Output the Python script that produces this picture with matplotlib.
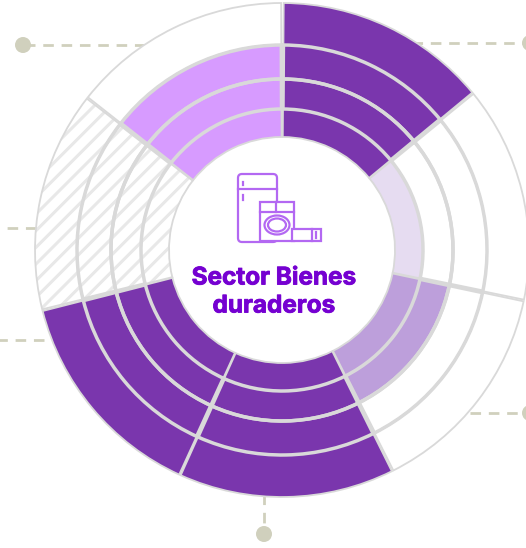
import numpy as np
import matplotlib
matplotlib.use('Agg')
import matplotlib.pyplot as plt
import matplotlib.patheffects as pe
from matplotlib.patches import Circle, Ellipse, FancyBboxPatch, Rectangle

# Parameters
W, H = 526, 548
cx, cy = 282, 250
rmax = 250

# Filled rings per sector, clockwise from the top (None = no data)
levels = [4, 1, 2, 4, 4, None, 3]
sector_edges = [0.2, 50.6, 101.8, 153.4, 204.4, 255.9, 308, 360]
level_colors = {4: '#7a36ad', 3: '#d79bff', 2: '#bd9fdb', 1: '#e6dcf1'}
title = 'Sector Bienes\nduraderos'

ring_edges = [113, 141, 171, 205, 247]
ring_lw = [1.3, 2.5, 2.5, 1.3]
grey = '#d9d9d9'
leader = '#d0d0bd'
icon = '#b368f2'
title_color = '#7500d1'

plt.rcParams['hatch.linewidth'] = 2.2
plt.rcParams['hatch.color'] = '#e8e8e8'

fig = plt.figure(figsize=(W / 100, H / 100), dpi=100)

# Overlay in pixel coordinates for leaders and icon
bg = fig.add_axes([0, 0, 1, 1])
bg.set_xlim(0, W)
bg.set_ylim(H, 0)
bg.axis('off')

leaders = [((145, 45), (23, 45)), ((412, 43), (530, 43)), ((36, 228), (-8, 228)),
           ((44, 340), (-8, 340)), ((470, 413), (530, 413)), ((264, 494), (264, 534))]
for (x1, y1), (x0, y0) in leaders:
    bg.plot([x1, x0], [y1, y0], color=leader, lw=2, dashes=(3.8, 2.8))
    bg.add_patch(Circle((x0, y0), 8, color=leader, lw=0))

ax = fig.add_axes([(cx - rmax) / W, 1 - (cy + rmax) / H, 2 * rmax / W, 2 * rmax / H],
                  projection='polar')
ax.set_theta_zero_location('N')
ax.set_theta_direction(-1)
ax.set_ylim(0, rmax)
ax.axis('off')
ax.patch.set_alpha(0)

gap = np.radians(0.4)
# White disc so that leader lines stop at the wheel
ax.bar(0, rmax - 3, width=2 * np.pi, bottom=0, align='edge', facecolor='white', lw=0)
for i, level in enumerate(levels):
    theta = np.radians(sector_edges[i]) + gap / 2
    width = np.radians(sector_edges[i + 1] - sector_edges[i]) - gap
    for ring in range(len(ring_edges) - 1):
        r0, r1 = ring_edges[ring], ring_edges[ring + 1]
        if level is None:
            ax.bar(theta, r1 - r0, width=width, bottom=r0, align='edge',
                   facecolor='white', hatch='//', edgecolor='#e8e8e8', lw=0, zorder=2)
        elif ring < level:
            ax.bar(theta, r1 - r0, width=width, bottom=r0, align='edge',
                   facecolor=level_colors[level], lw=0, zorder=2)
        # Outlines in a later layer so neighbouring fills do not cover them
        ax.bar(theta, r1 - r0, width=width, bottom=r0, align='edge',
               facecolor='none', edgecolor=grey, lw=ring_lw[ring], zorder=3)

# Centre icon drawn above the chart
top = fig.add_axes([0, 0, 1, 1])
top.set_xlim(0, W)
top.set_ylim(H, 0)
top.axis('off')
top.patch.set_alpha(0)
lw_i = 1.6
top.add_patch(FancyBboxPatch((240, 176), 35, 64, boxstyle='round,pad=2,rounding_size=4',
                             fc='none', ec=icon, lw=lw_i))
top.plot([238, 277], [189, 189], color=icon, lw=lw_i)
top.plot([243, 243], [182, 185], color=icon, lw=lw_i)
top.plot([243, 243], [195, 200], color=icon, lw=lw_i)
top.add_patch(Rectangle((260, 202), 34, 39, fc='white', ec=icon, lw=lw_i))
top.plot([260, 294], [212, 212], color=icon, lw=lw_i)
top.plot([276, 276], [202, 212], color=icon, lw=lw_i)
top.add_patch(Ellipse((277, 225), 25, 19, fc='none', ec=icon, lw=lw_i))
top.add_patch(Ellipse((277, 225), 18, 13, fc='none', ec=icon, lw=lw_i))
top.add_patch(Rectangle((292, 229), 29, 12, fc='white', ec=icon, lw=lw_i))
top.plot([312, 312], [229, 241], color=icon, lw=lw_i)
top.plot([316, 316], [232, 238], color=icon, lw=lw_i)

# Inter bold is a bit light here, thicken it with a stroke
top.text(274, 292, title, ha='center', va='center', fontsize=17.5, fontweight='bold',
         family='Inter', color=title_color, linespacing=1.28,
         path_effects=[pe.withStroke(linewidth=0.6, foreground=title_color)])

fig.savefig('out.png', dpi=100)
